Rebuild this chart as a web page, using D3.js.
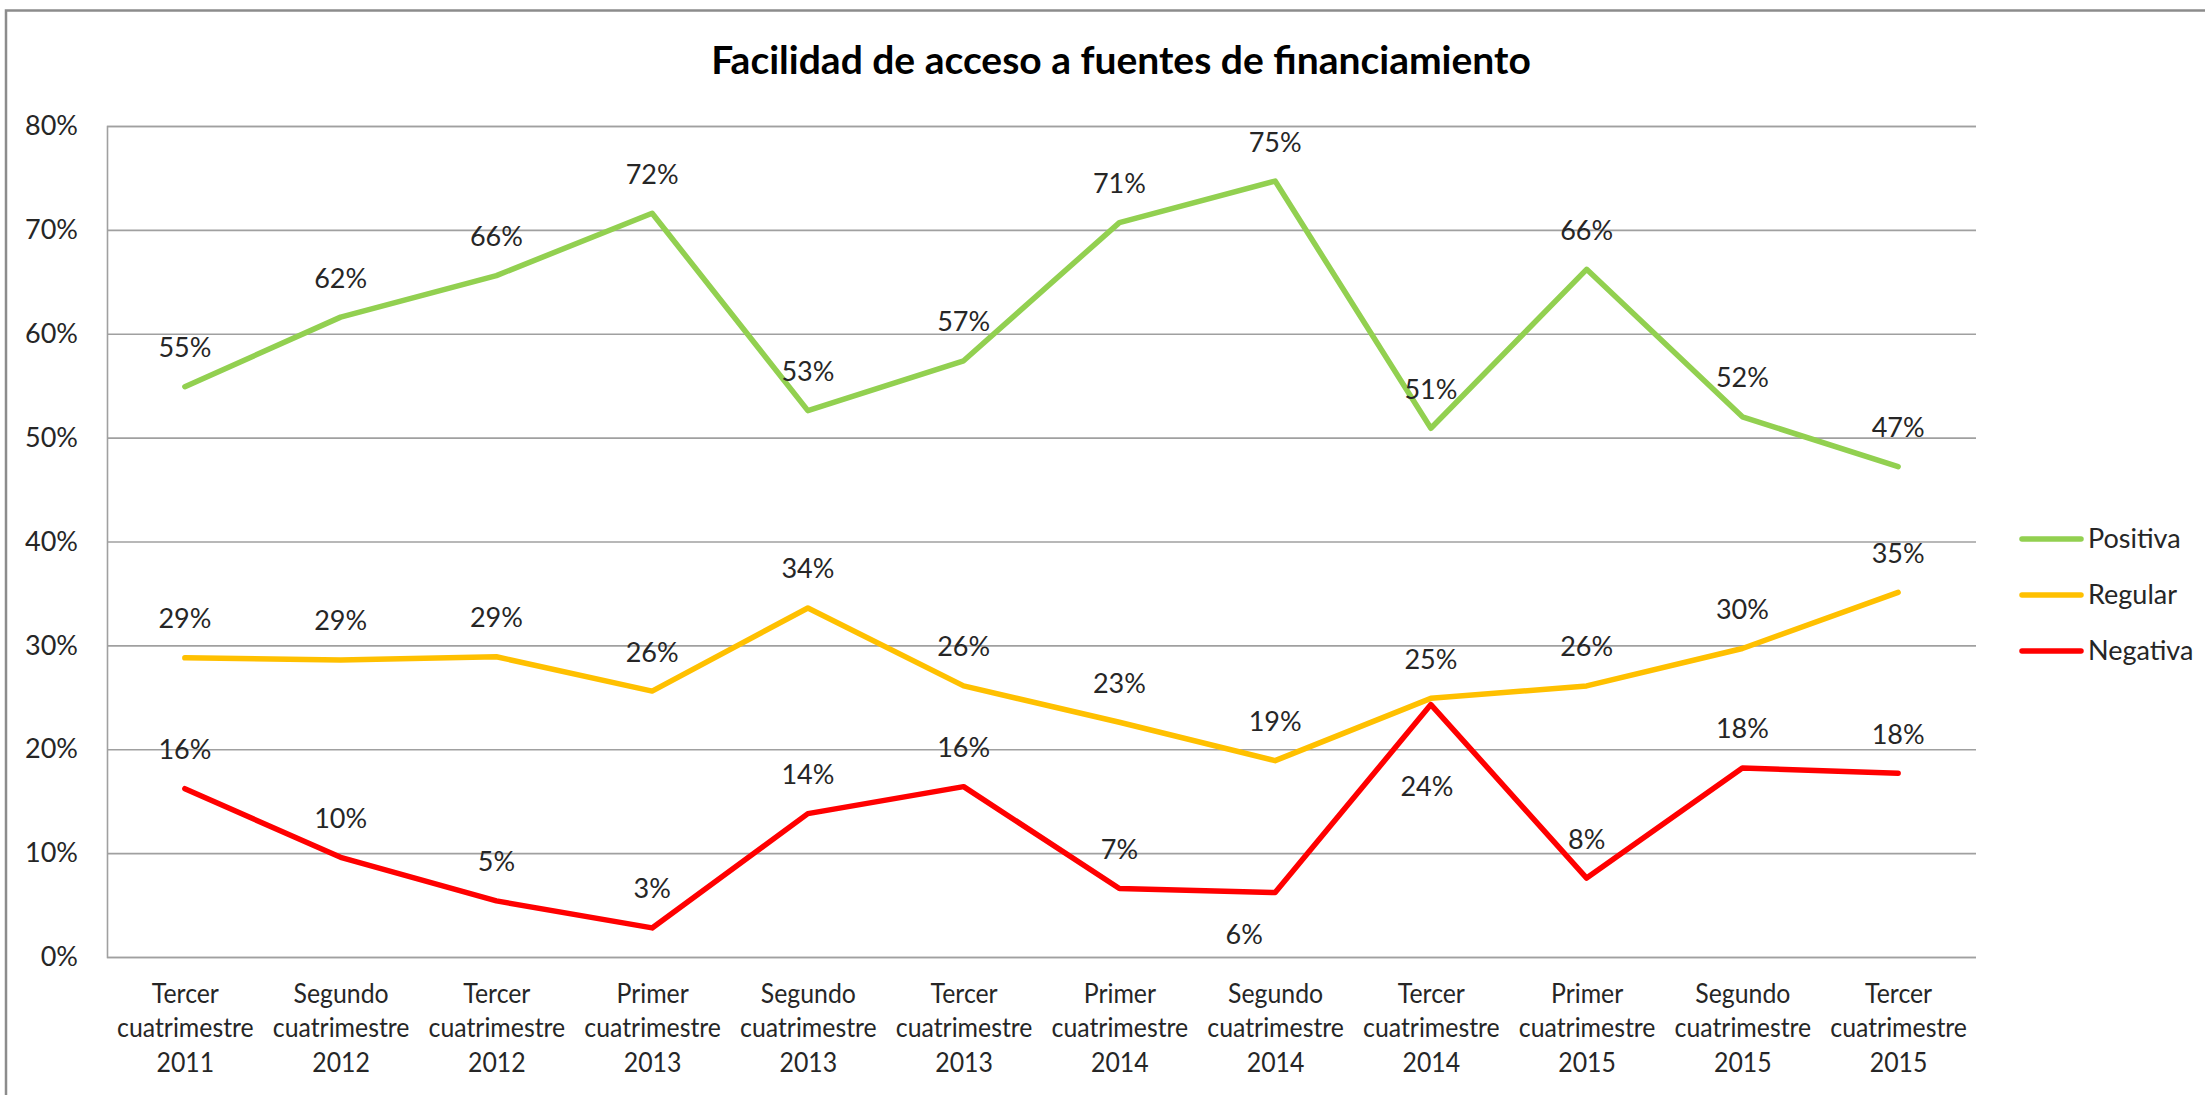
<!DOCTYPE html>
<html>
<head>
<meta charset="utf-8">
<script src="https://cdn.jsdelivr.net/npm/d3@7"></script>
<style>
body { margin: 0; background: #fff; }
text { font-family: Lato, "Open Sans", sans-serif; fill: #262626; }
</style>
</head>
<body>
<div id="chart"></div>
<script>
// data
const categories = [
  "Tercer cuatrimestre 2011", "Segundo cuatrimestre 2012", "Tercer cuatrimestre 2012",
  "Primer cuatrimestre 2013", "Segundo cuatrimestre 2013", "Tercer cuatrimestre 2013",
  "Primer cuatrimestre 2014", "Segundo cuatrimestre 2014", "Tercer cuatrimestre 2014",
  "Primer cuatrimestre 2015", "Segundo cuatrimestre 2015", "Tercer cuatrimestre 2015"
];
const positiva = [0.549, 0.616, 0.656, 0.716, 0.526, 0.574, 0.707, 0.747, 0.509, 0.662, 0.520, 0.472];
const regular  = [0.288, 0.286, 0.289, 0.256, 0.336, 0.261, 0.226, 0.189, 0.249, 0.261, 0.297, 0.351];
const negativa = [0.162, 0.096, 0.054, 0.028, 0.138, 0.164, 0.066, 0.062, 0.243, 0.076, 0.182, 0.177];
const seriesNames = ["Positiva", "Regular", "Negativa"];
const yTicks = [0, 0.1, 0.2, 0.3, 0.4, 0.5, 0.6, 0.7, 0.8];

const colors = {Positiva: "#92D050", Regular: "#FFC000", Negativa: "#FF0000"};
const series = [
  {name: "Positiva", values: positiva},
  {name: "Regular", values: regular},
  {name: "Negativa", values: negativa}
];
// labels that sit under their point instead of above (Negativa only)
const labelNudge = {"Negativa-7": [-31, 42], "Negativa-8": [-4, 82]};

let boxWidth = 2205;
let boxHeight = 1095;
let margin = {top: 126, right: 229, bottom: 138, left: 107};
let width = boxWidth - margin.left - margin.right;
let height = boxHeight - margin.top - margin.bottom;

let svg = d3.select("#chart").append("svg")
  .attr("width", boxWidth)
  .attr("height", boxHeight);

svg.append("rect").attr("width", boxWidth).attr("height", boxHeight).attr("fill", "#fff");

// outer chart border (only top and left visible)
svg.append("rect")
  .attr("x", 6).attr("y", 10.5)
  .attr("width", boxWidth + 20).attr("height", boxHeight + 20)
  .attr("fill", "none").attr("stroke", "#8c8c8c").attr("stroke-width", 2.5);

svg.append("text")
  .attr("x", 1121).attr("y", 74)
  .attr("text-anchor", "middle")
  .attr("font-size", "39px").attr("font-weight", "bold")
  .style("fill", "#000")
  .text("Facilidad de acceso a fuentes de financiamiento");

let plot = svg.append("g").attr("transform", `translate(${margin.left},${margin.top})`);

let x = d3.scalePoint().domain(categories).range([0, width]).padding(0.5);
let y = d3.scaleLinear().domain([0, 0.8]).range([height, 0]);

// gridlines + y labels
let yAxis = plot.append("g")
  .call(d3.axisLeft(y).tickValues(yTicks).tickFormat(d3.format(".0%")).tickSize(-width).tickPadding(29));
yAxis.select(".domain").attr("stroke", "#a0a0a0").attr("stroke-width", 1.6);
yAxis.selectAll(".tick line").attr("stroke", "#a0a0a0").attr("stroke-width", 1.6);
yAxis.selectAll(".tick text").attr("font-size", "27px").style("font-family", "Lato");

// category labels, three lines each (squeezed a bit to match the narrow original face)
let xAxis = plot.append("g").attr("transform", `translate(0,${height})`)
  .call(d3.axisBottom(x).tickSize(0).tickFormat(""));
xAxis.select(".domain").remove();
xAxis.selectAll(".tick").each(function(d) {
  let t = d3.select(this).append("text")
    .attr("transform", "scale(0.92,1)")
    .attr("text-anchor", "middle")
    .attr("font-size", "27px")
    .style("font-family", "Lato");
  d.split(" ").forEach((w, i) => {
    t.append("tspan").attr("x", 0).attr("y", 46 + i * 34.5).text(w);
  });
});

let line = d3.line().x((d, i) => x(categories[i])).y(d => y(d));

series.forEach(s => {
  plot.append("path")
    .datum(s.values)
    .attr("d", line)
    .attr("fill", "none")
    .attr("stroke", colors[s.name])
    .attr("stroke-width", 5.5)
    .attr("stroke-linejoin", "round")
    .attr("stroke-linecap", "round");
});

series.forEach(s => {
  plot.selectAll(null)
    .data(s.values)
    .enter()
    .append("text")
    .attr("x", (d, i) => x(categories[i]) + (labelNudge[s.name + "-" + i] || [0, -39])[0])
    .attr("y", (d, i) => y(d) + (labelNudge[s.name + "-" + i] || [0, -39])[1])
    .attr("dy", "0.35em")
    .attr("text-anchor", "middle")
    .attr("font-size", "27px")
    .text(d => d3.format(".0%")(d));
});

// legend
let legend = svg.append("g").attr("transform", "translate(2020,539)");
seriesNames.forEach((n, i) => {
  let g = legend.append("g").attr("transform", `translate(0,${i * 56})`);
  g.append("line").attr("x1", 2).attr("x2", 61)
    .attr("stroke", colors[n]).attr("stroke-width", 5.5).attr("stroke-linecap", "round");
  g.append("text").attr("x", 68).attr("dy", "0.35em").attr("font-size", "27px").text(n);
});
</script>
</body>
</html>
